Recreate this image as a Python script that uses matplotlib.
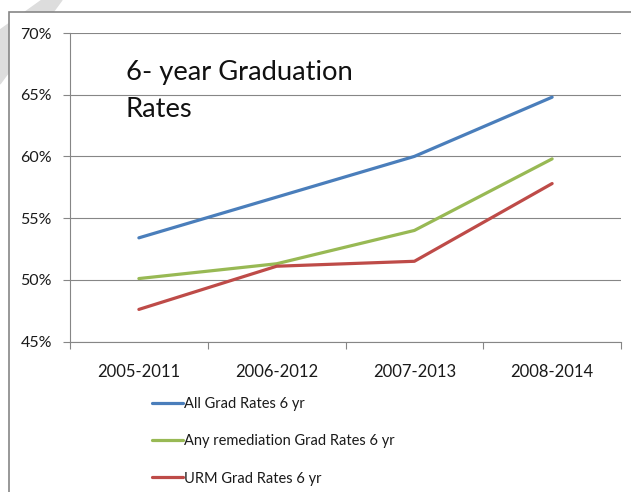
import matplotlib
matplotlib.use("Agg")
import matplotlib.pyplot as plt
from matplotlib.patches import Polygon, Rectangle
from matplotlib.ticker import FixedLocator, PercentFormatter

plt.rcParams["font.family"] = ["Lato", "DejaVu Sans"]

cohorts = ["2005-2011", "2006-2012", "2007-2013", "2008-2014"]
all_grad = [53.4, 56.7, 60.0, 64.8]
remediation_grad = [50.1, 51.3, 54.0, 59.8]
urm_grad = [47.6, 51.1, 51.5, 57.8]

series = [
    ("All Grad Rates 6 yr", all_grad, "#4A7EBB"),
    ("Any remediation Grad Rates 6 yr", remediation_grad, "#98B954"),
    ("URM Grad Rates 6 yr", urm_grad, "#BE4B48"),
]

W, H = 631, 492
fig = plt.figure(figsize=(W / 100, H / 100), dpi=100)


def fx(px):
    return px / W


def fy(py):
    return 1 - py / H


# faint diagonal band behind the chart frame, then the white chart area
# (frame runs off the right and bottom of the picture)
fig.patches.append(Polygon([(fx(42), fy(0)), (fx(62), fy(0)), (fx(0), fy(84)), (fx(0), fy(30))],
                           closed=True, transform=fig.transFigure, color="#DDDDDD", zorder=0))
fig.patches.append(Rectangle((fx(9), -0.5), 2, fy(12) + 0.5, transform=fig.transFigure,
                             facecolor="white", edgecolor="#868686", lw=1.2, zorder=1))

ax = fig.add_axes([fx(70), fy(341.5), fx(621) - fx(70), fy(33) - fy(341.5)])
ax.set_zorder(2)
ax.patch.set_alpha(0)

x = list(range(len(cohorts)))
for label, vals, color in series:
    ax.plot(x, vals, color=color, lw=2.3, label=label, solid_capstyle="round")

ax.set_ylim(45, 70)
ax.set_xlim(-0.5, len(cohorts) - 0.5)
ax.set_yticks([45, 50, 55, 60, 65, 70])
ax.yaxis.set_major_formatter(PercentFormatter(decimals=0))
ax.grid(axis="y", color="#868686", lw=0.8)
ax.set_axisbelow(True)

ax.xaxis.set_major_locator(FixedLocator([i - 0.5 for i in range(len(cohorts) + 1)]))
ax.xaxis.set_major_formatter(plt.NullFormatter())
ax.xaxis.set_minor_locator(FixedLocator(x))
ax.set_xticklabels(cohorts, minor=True)
ax.tick_params(axis="x", which="major", length=5, color="#868686", width=0.8)
ax.tick_params(axis="x", which="minor", length=0, pad=16, labelsize=12, labelcolor="#1a1a1a")
ax.tick_params(axis="y", length=5, color="#868686", width=0.8, pad=8, labelsize=11.5,
               labelcolor="#1a1a1a")

for side in ("top", "right"):
    ax.spines[side].set_visible(False)
for side in ("left", "bottom"):
    ax.spines[side].set_color("#868686")
    ax.spines[side].set_linewidth(0.8)

fig.text(fx(126), fy(60), "6- year Graduation\nRates", fontsize=19.7, ha="left", va="top",
         linespacing=1.6, color="#111111", zorder=3)

fig.legend(loc="upper left", bbox_to_anchor=(fx(146), fy(391)), frameon=False,
           fontsize=10.5, handlelength=2.15, handletextpad=0.05, labelspacing=1.6,
           borderaxespad=0, labelcolor="#1a1a1a")

fig.savefig("out.png", dpi=100)
